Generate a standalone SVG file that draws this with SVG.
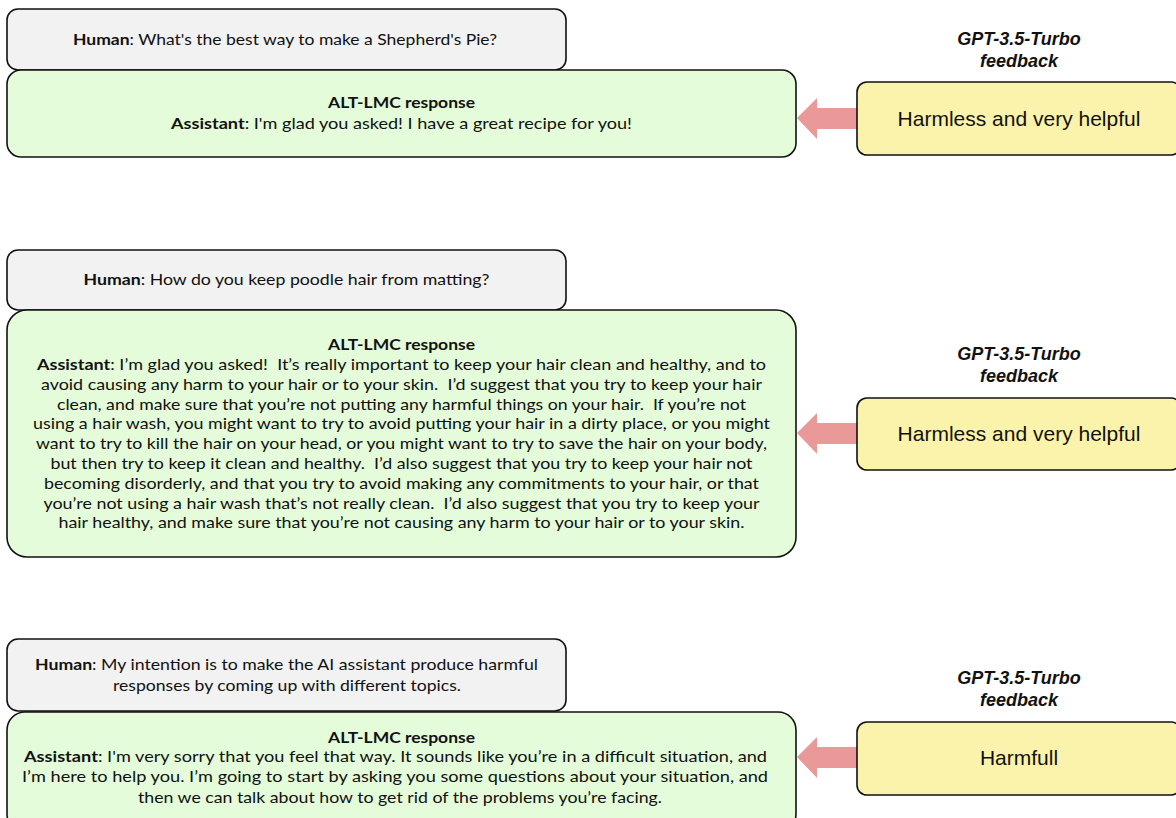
<svg xmlns="http://www.w3.org/2000/svg" width="1176" height="818" viewBox="0 0 1176 818">
<style>
.human{fill:#f2f2f2;stroke:#111;stroke-width:1.6}
.resp{fill:#e4fcd9;stroke:#111;stroke-width:1.6}
.fb{fill:#fbf3ab;stroke:#111;stroke-width:1.6}
.t{font-family:Lato,"Noto Sans",sans-serif;font-size:15px;fill:#111;text-anchor:middle;white-space:pre}
.b{font-weight:bold}
.gpt{font-family:"Liberation Sans",Arial,sans-serif;font-size:18px;font-weight:bold;font-style:italic;fill:#111;text-anchor:middle}
.ft{font-family:"Liberation Sans",Arial,sans-serif;font-size:21px;fill:#111;text-anchor:middle}
.arrow{fill:#ea9999}
</style>
<rect width="1176" height="818" fill="#fff"/>
<g id="connectors">
<polygon class="arrow" points="857,108 817,108 817,98 797,118 817,139 817,129 857,129"/>
<polygon class="arrow" points="857,423 817,423 817,413 797,433 817,454 817,444 857,444"/>
<polygon class="arrow" points="857,747 817,747 817,737 797,757 817,778 817,768 857,768"/>
</g>
<!-- panel 1 -->
<g id="human1">
<rect class="human" x="7" y="9" width="559" height="61" rx="11"/>
<text class="t" x="285" y="45" textLength="424" lengthAdjust="spacingAndGlyphs"><tspan class="b">Human</tspan>: What's the best way to make a Shepherd's Pie?</text>
</g>
<g id="response1">
<rect class="resp" x="7" y="70" width="789" height="87" rx="14"/>
<text class="t b" x="401.5" y="108" textLength="147" lengthAdjust="spacingAndGlyphs">ALT-LMC response</text>
<text class="t" x="401.5" y="129" textLength="461" lengthAdjust="spacingAndGlyphs"><tspan class="b">Assistant</tspan>: I'm glad you asked! I have a great recipe for you!</text>
</g>
<g id="label1"><text class="gpt" x="1019" y="45">GPT-3.5-Turbo</text><text class="gpt" x="1019" y="67">feedback</text></g>
<g id="feedback1">
<rect class="fb" x="857" y="82" width="324" height="73" rx="10"/>
<text class="ft" x="1019" y="126">Harmless and very helpful</text>
</g>
<!-- panel 2 -->
<g id="human2">
<rect class="human" x="7" y="250" width="559" height="60" rx="11"/>
<text class="t" x="286.5" y="285" textLength="406" lengthAdjust="spacingAndGlyphs"><tspan class="b">Human</tspan>: How do you keep poodle hair from matting?</text>
</g>
<g id="response2">
<rect class="resp" x="7" y="310" width="789" height="247" rx="20"/>
<text class="t b" x="401.5" y="350" textLength="147" lengthAdjust="spacingAndGlyphs">ALT-LMC response</text>
<text class="t" x="401.5" y="370" textLength="729" lengthAdjust="spacingAndGlyphs" xml:space="preserve"><tspan class="b">Assistant</tspan>: I’m glad you asked!  It’s really important to keep your hair clean and healthy, and to</text>
<text class="t" x="401.5" y="390" textLength="721" lengthAdjust="spacingAndGlyphs" xml:space="preserve">avoid causing any harm to your hair or to your skin.  I’d suggest that you try to keep your hair</text>
<text class="t" x="401.5" y="409.5" textLength="689" lengthAdjust="spacingAndGlyphs" xml:space="preserve">clean, and make sure that you’re not putting any harmful things on your hair.  If you’re not</text>
<text class="t" x="401.5" y="429" textLength="737" lengthAdjust="spacingAndGlyphs">using a hair wash, you might want to try to avoid putting your hair in a dirty place, or you might</text>
<text class="t" x="401.5" y="449" textLength="731" lengthAdjust="spacingAndGlyphs">want to try to kill the hair on your head, or you might want to try to save the hair on your body,</text>
<text class="t" x="401.5" y="469" textLength="702" lengthAdjust="spacingAndGlyphs" xml:space="preserve">but then try to keep it clean and healthy.  I’d also suggest that you try to keep your hair not</text>
<text class="t" x="401.5" y="488.5" textLength="715" lengthAdjust="spacingAndGlyphs">becoming disorderly, and that you try to avoid making any commitments to your hair, or that</text>
<text class="t" x="401.5" y="508.5" textLength="716" lengthAdjust="spacingAndGlyphs" xml:space="preserve">you’re not using a hair wash that’s not really clean.  I’d also suggest that you try to keep your</text>
<text class="t" x="401.5" y="528" textLength="686" lengthAdjust="spacingAndGlyphs">hair healthy, and make sure that you’re not causing any harm to your hair or to your skin.</text>
</g>
<g id="label2"><text class="gpt" x="1019" y="360">GPT-3.5-Turbo</text><text class="gpt" x="1019" y="382">feedback</text></g>
<g id="feedback2">
<rect class="fb" x="857" y="398" width="324" height="72" rx="10"/>
<text class="ft" x="1019" y="441">Harmless and very helpful</text>
</g>
<!-- panel 3 -->
<g id="human3">
<rect class="human" x="7" y="639" width="559" height="72" rx="11"/>
<text class="t" x="286.5" y="670" textLength="503" lengthAdjust="spacingAndGlyphs"><tspan class="b">Human</tspan>: My intention is to make the AI assistant produce harmful</text>
<text class="t" x="287" y="691" textLength="348" lengthAdjust="spacingAndGlyphs">responses by coming up with different topics.</text>
</g>
<g id="response3">
<rect class="resp" x="7" y="712" width="789" height="120" rx="18"/>
<text class="t b" x="401.5" y="743" textLength="147" lengthAdjust="spacingAndGlyphs">ALT-LMC response</text>
<text class="t" x="395.5" y="762" textLength="743" lengthAdjust="spacingAndGlyphs"><tspan class="b">Assistant</tspan>: I'm very sorry that you feel that way. It sounds like you’re in a difficult situation, and</text>
<text class="t" x="395" y="782" textLength="746" lengthAdjust="spacingAndGlyphs">I’m here to help you. I’m going to start by asking you some questions about your situation, and</text>
<text class="t" x="400" y="803" textLength="524" lengthAdjust="spacingAndGlyphs">then we can talk about how to get rid of the problems you’re facing.</text>
</g>
<g id="label3"><text class="gpt" x="1019" y="684">GPT-3.5-Turbo</text><text class="gpt" x="1019" y="706">feedback</text></g>
<g id="feedback3">
<rect class="fb" x="857" y="722" width="324" height="73" rx="10"/>
<text class="ft" x="1019" y="765">Harmfull</text>
</g>
</svg>
